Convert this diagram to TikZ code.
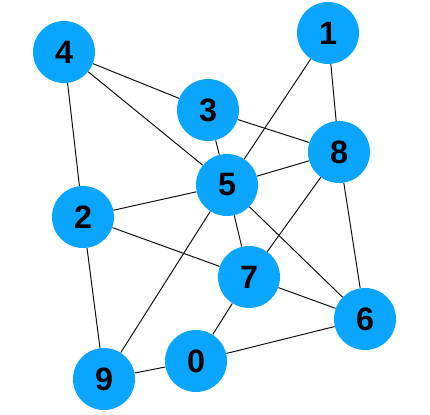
\documentclass[tikz,border=0pt]{standalone}
\usepackage{fontspec}
\setmainfont{Liberation Sans}
\definecolor{vertexfill}{HTML}{0AA5FF}
\definecolor{edgeline}{HTML}{111111}
\tikzset{
  vertex/.style={circle, fill=vertexfill, draw=none, minimum size=1.55cm, inner sep=0pt, font=\fontsize{23}{23}\selectfont\bfseries, text=black},
  link/.style={draw=edgeline, line width=0.7pt}
}

\begin{document}
\begin{tikzpicture}[x=0.025cm, y=-0.025cm]
\useasboundingbox (0,0) rectangle (430,415);

% Vertices
\node[vertex] (n1) at (328,33)  {1};
\node[vertex] (n4) at (64,52)   {4};
\node[vertex] (n3) at (208,110) {3};
\node[vertex] (n8) at (339,152) {8};
\node[vertex] (n5) at (227,185) {5};
\node[vertex] (n2) at (83,217)  {2};
\node[vertex] (n7) at (249,277) {7};
\node[vertex] (n6) at (365,319) {6};
\node[vertex] (n0) at (196,361) {0};
\node[vertex] (n9) at (104,379) {9};

% Edges
\foreach \a/\b in {4/3,4/5,4/2,3/8,3/5,1/5,1/8,8/5,8/7,8/6,5/2,5/7,5/6,5/9,2/7,2/9,7/6,7/0,0/6,0/9} {
  \draw[link] (n\a) -- (n\b);
}

\end{tikzpicture}
\end{document}
